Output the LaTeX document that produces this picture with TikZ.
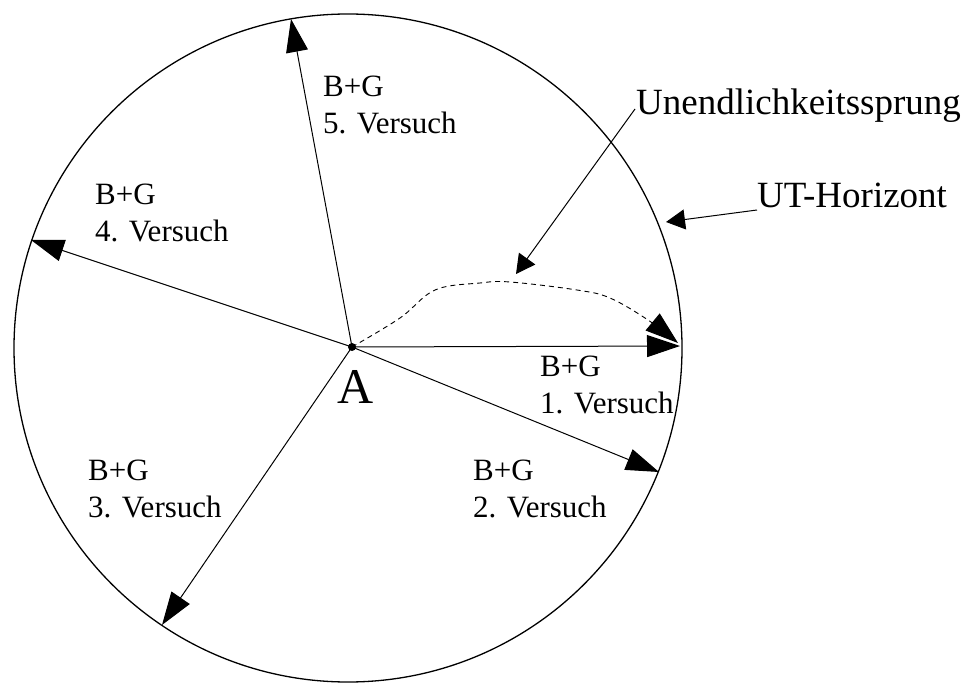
\documentclass[tikz,border=0pt]{standalone}
\usepackage{fontspec}
\setmainfont{Liberation Serif}
\usetikzlibrary{arrows.meta}
\begin{document}
\begin{tikzpicture}[x=1pt,y=-1pt,
  lbl/.style={anchor=base west,inner sep=0pt,font=\fontsize{31}{37}\selectfont},
  biglbl/.style={anchor=base west,inner sep=0pt,font=\fontsize{37}{44}\selectfont},
  ray/.style={line width=1pt,-{Triangle[length=33pt,width=22pt]}},
  pointer/.style={line width=1pt,-{Triangle[length=19pt,width=20pt]}}]
\fill[white] (0,0) rectangle (968,684);
\useasboundingbox (0,0) rectangle (968,684);
% horizon circle
\draw[line width=1.3pt] (348,348) circle[radius=334];
% centre
\node[circle,fill=black,inner sep=0pt,minimum size=8pt] (A) at (352,347) {};
\node[anchor=base west,inner sep=0pt,font=\fontsize{50}{60}\selectfont] (Alab) at (337,403) {A};
% tips
\coordinate (t1) at (680,346);
\coordinate (t2) at (659,472);
\coordinate (t3) at (162,625);
\coordinate (t4) at (31,240);
\coordinate (t5) at (291,19);
\coordinate (td) at (678,343);
\draw[ray] (A.center) -- (t1);
\draw[ray] (A.center) -- (t2);
\draw[ray] (A.center) -- (t3);
\draw[ray] (A.center) -- (t4);
\draw[ray] (A.center) -- (t5);
% dashed jump
\draw[line width=0.9pt,dash pattern=on 5pt off 4pt,-{Triangle[length=33pt,width=22pt]}]
  plot[smooth,tension=0.6] coordinates {(A.center) (400,318) (435,290) (480,283) (510,282) (577,290) (610,298) (648,320) (td)};
% labels
\node[lbl] (l1a) at (540,376) {B+G};
\node[lbl] (l1b) at (540,413) {1. Versuch};
\node[lbl] (l2a) at (473,480) {B+G};
\node[lbl] (l2b) at (473,517) {2. Versuch};
\node[lbl] (l3a) at (88,480) {B+G};
\node[lbl] (l3b) at (88,517) {3. Versuch};
\node[lbl] (l4a) at (95,205) {B+G};
\node[lbl] (l4b) at (95,242) {4. Versuch};
\node[lbl] (l5a) at (323,97) {B+G};
\node[lbl] (l5b) at (323,134) {5. Versuch};
% right labels
\node[biglbl] (uns) at (636,115) {Unendlichkeitssprung};
\node[biglbl] (uth) at (757,208) {UT-Horizont};
\coordinate (u0) at (635,109);
\coordinate (u1) at (516,274);
\coordinate (h0) at (757,210);
\coordinate (h1) at (666,222);
\draw[pointer] (u0) -- (u1);
\draw[pointer] (h0) -- (h1);
\end{tikzpicture}
\end{document}
